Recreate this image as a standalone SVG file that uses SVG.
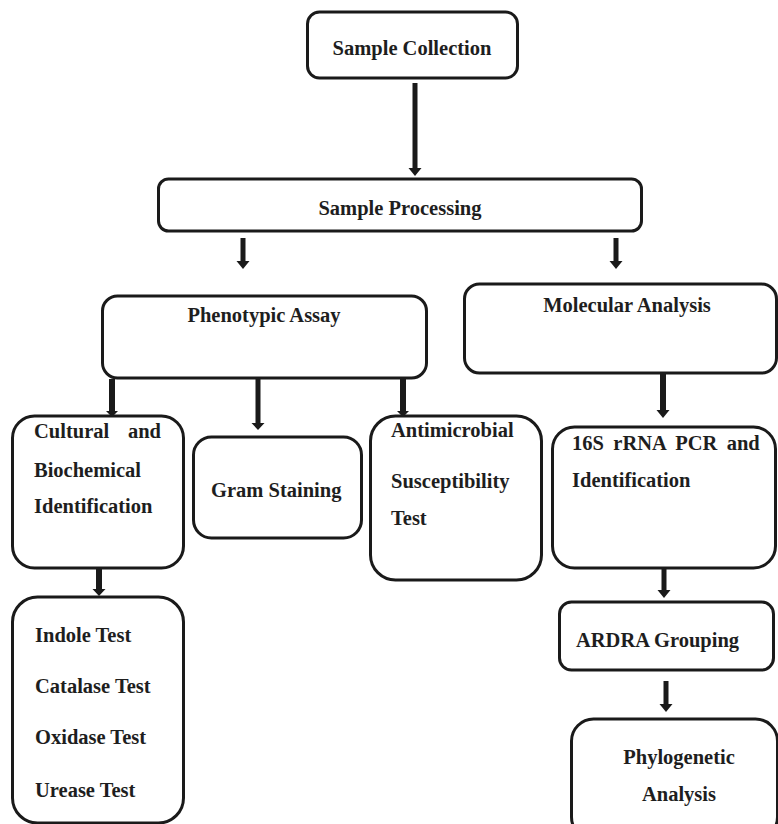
<svg xmlns="http://www.w3.org/2000/svg" width="778" height="824" viewBox="0 0 778 824">
<style>
.box{fill:#fff;stroke:#1a1a1a;stroke-width:3}
.t{font-family:"Liberation Serif","Times New Roman",serif;font-weight:bold;font-size:20.5px;fill:#1e1e1e}
.c{text-anchor:middle}
.arr{fill:#1a1a1a;stroke:none}
</style>
<rect width="778" height="824" fill="#fff"/>
<g id="connectors">
<path class="arr" d="M412.5 83H417.5V168H421.5L415 176L408.5 168H412.5Z"/>
<path class="arr" d="M240.5 238H245.5V261H249.5L243 269L236.5 261H240.5Z"/>
<path class="arr" d="M613.5 238H618.5V261H622.5L616 269L609.5 261H613.5Z"/>
<path class="arr" d="M109 379H115V411H118L112 417L106 411H109Z"/>
<path class="arr" d="M255.5 379H260.5V423H264.5L258 430L251.5 423H255.5Z"/>
<path class="arr" d="M400 379H406V411H409L403 417L397 411H400Z"/>
<path class="arr" d="M660 374H666V410H669.5L663 418L656.5 410H660Z"/>
<path class="arr" d="M96 569H102V589H105.5L99 596L92.5 589H96Z"/>
<path class="arr" d="M661.5 569H666.5V590H670.5L664 598L657.5 590H661.5Z"/>
<path class="arr" d="M663.5 681H668.5V704H672.5L666 712L659.5 704H663.5Z"/>
</g>
<g id="sample-collection">
<rect class="box" x="307.5" y="12" width="210" height="66" rx="12"/>
<text class="t c" x="412" y="55">Sample Collection</text>
</g>
<g id="sample-processing">
<rect class="box" x="158.5" y="179" width="483" height="52" rx="10"/>
<text class="t c" x="400" y="215">Sample Processing</text>
</g>
<g id="phenotypic-assay">
<rect class="box" x="102.5" y="296" width="324" height="82" rx="15"/>
<text class="t c" x="264" y="322">Phenotypic Assay</text>
</g>
<g id="molecular-analysis">
<rect class="box" x="464.5" y="284" width="312" height="89" rx="15"/>
<text class="t c" x="627" y="312">Molecular Analysis</text>
</g>
<g id="cultural-biochemical">
<rect class="box" x="12.5" y="416" width="171" height="152" rx="22"/>
<text class="t" x="34" y="438">Cultural</text>
<text class="t" x="161" y="438" text-anchor="end">and</text>
<text class="t" x="34" y="477">Biochemical</text>
<text class="t" x="34" y="513">Identification</text>
</g>
<g id="gram-staining">
<rect class="box" x="193.5" y="437" width="168" height="101" rx="18"/>
<text class="t" x="211" y="497">Gram Staining</text>
</g>
<g id="antimicrobial">
<rect class="box" x="370.5" y="416" width="171" height="164" rx="25"/>
<text class="t" x="391" y="437">Antimicrobial</text>
<text class="t" x="391" y="488">Susceptibility</text>
<text class="t" x="391" y="525">Test</text>
</g>
<g id="pcr-identification">
<rect class="box" x="552.5" y="427" width="223" height="141" rx="22"/>
<text class="t" x="572" y="450" word-spacing="4.3">16S rRNA PCR and</text>
<text class="t" x="572" y="487">Identification</text>
</g>
<g id="biochemical-tests">
<rect class="box" x="12.5" y="597" width="171" height="226" rx="25"/>
<text class="t" x="35" y="642">Indole Test</text>
<text class="t" x="35" y="693">Catalase Test</text>
<text class="t" x="35" y="744">Oxidase Test</text>
<text class="t" x="35" y="797">Urease Test</text>
</g>
<g id="ardra-grouping">
<rect class="box" x="559.5" y="602" width="214" height="68" rx="12"/>
<text class="t" x="576" y="647">ARDRA Grouping</text>
</g>
<g id="phylogenetic-analysis">
<rect class="box" x="571.5" y="719" width="206" height="120" rx="22"/>
<text class="t c" x="679" y="764">Phylogenetic</text>
<text class="t c" x="679" y="801">Analysis</text>
</g>
</svg>
